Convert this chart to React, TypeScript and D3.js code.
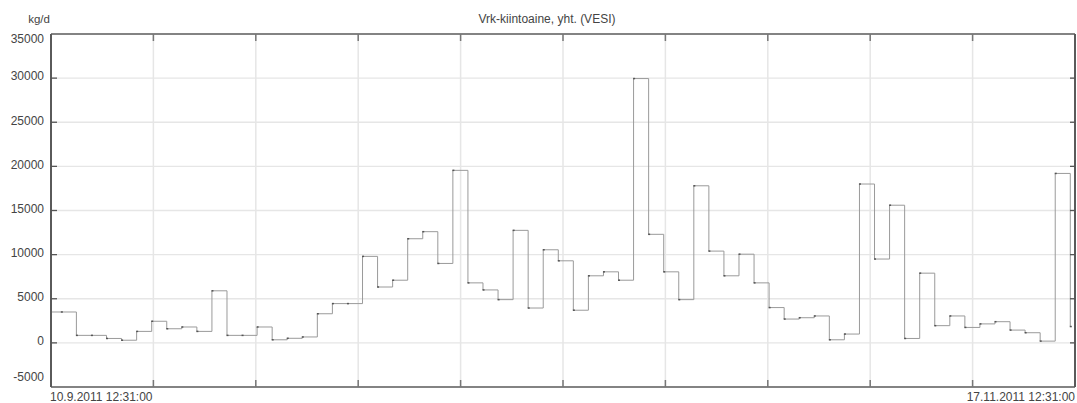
import React from "react";
import * as d3 from "d3";

// Daily solids load (kg/d), one value per daily reading
const dailyLoad: number[] = [
  3500, 3500, 850, 850, 500, 300, 1300, 2450, 1600, 1800, 1300, 5900, 850, 850,
  1800, 350, 520, 670, 3300, 4450, 4450, 9800, 6330, 7100, 11800, 12600, 9000,
  19550, 6800, 6000, 4900, 12750, 3950, 10550, 9300, 3700, 7600, 8050, 7100,
  29950, 12300, 8050, 4900, 17800, 10400, 7600, 10050, 6800, 4000, 2700, 2850,
  3050, 350, 1000, 18000, 9500, 15600, 500, 7900, 1950, 3050, 1750, 2150, 2400,
  1450, 1150, 200, 19200, 1850,
];

// Timestamp of the first reading; readings follow one per day
const firstReading = new Date(Date.UTC(2011, 8, 10, 5, 0));
const rangeStart = new Date(Date.UTC(2011, 8, 10, 12, 31));
const rangeEnd = new Date(Date.UTC(2011, 10, 17, 12, 31));

const yTicks: number[] = [-5000, 0, 5000, 10000, 15000, 20000, 25000, 30000, 35000];
const xDivisions = 10;

const chartTitle = "Vrk-kiintoaine, yht. (VESI)";
const unitLabel = "kg/d";

const W = 1077;
const H = 403;
const margin = { left: 51, right: 2, top: 34, bottom: 16 };

export default function App() {
  const x0 = margin.left;
  const x1 = W - margin.right;
  const y0 = margin.top;
  const y1 = H - margin.bottom;

  const x = d3.scaleUtc().domain([rangeStart, rangeEnd]).range([x0, x1]);
  const y = d3.scaleLinear().domain([-5000, 35000]).range([y1, y0]);

  const points = dailyLoad.map((v, i) => ({
    t: d3.utcDay.offset(firstReading, i),
    v,
  }));

  const line = d3
    .line<{ t: Date; v: number }>()
    .x((d) => x(d.t))
    .y((d) => y(d.v))
    .curve(d3.curveStepAfter);

  const span = rangeEnd.getTime() - rangeStart.getTime();
  const xTicks = d3
    .range(xDivisions + 1)
    .map((i) => new Date(rangeStart.getTime() + (span * i) / xDivisions));

  const fmt = d3.utcFormat("%-d.%-m.%Y %H:%M:%S");
  const font = "'Liberation Sans', Arial, sans-serif";
  const textColor = "#444";
  const axisColor = "#5a5a5a";
  const gridColor = "#e6e6e6";

  const labelBaseline = (v: number) => {
    const gy = y(v);
    if (v === yTicks[yTicks.length - 1]) return y0 + 9;
    if (v === yTicks[0]) return y1 - 6;
    return gy + 2.3;
  };

  return (
    <svg
      width={W}
      height={H}
      style={{ position: "absolute", left: 0, top: 0, background: "#fff" }}
      fontFamily={font}
    >
      <defs>
        <clipPath id="plot-clip">
          <rect x={x0} y={y0} width={x1 - x0} height={y1 - y0} />
        </clipPath>
      </defs>

      {/* grid */}
      {yTicks.slice(1, -1).map((v) => (
        <line key={"gy" + v} x1={x0} x2={x1} y1={y(v)} y2={y(v)} stroke={gridColor} strokeWidth={1.3} />
      ))}
      {xTicks.slice(1, -1).map((t, i) => (
        <line key={"gx" + i} x1={x(t)} x2={x(t)} y1={y0} y2={y1} stroke={gridColor} strokeWidth={1.5} />
      ))}

      {/* series */}
      <g clipPath="url(#plot-clip)">
        <path d={line(points) || ""} fill="none" stroke="#9a9a9a" strokeWidth={1} />
        {points.map((p, i) => (
          <rect key={"pt" + i} x={x(p.t) - 0.5} y={y(p.v) - 0.75} width={2} height={1.5} fill="#555" />
        ))}
      </g>

      {/* frame */}
      <line x1={x0} x2={x1} y1={y0} y2={y0} stroke={axisColor} strokeWidth={1.5} />
      <line x1={x0} x2={x1} y1={y1} y2={y1} stroke={axisColor} strokeWidth={1.5} />
      <line x1={x0} x2={x0} y1={y0} y2={y1} stroke={axisColor} strokeWidth={2} />
      <line x1={x1} x2={x1} y1={y0} y2={y1} stroke={axisColor} strokeWidth={2} />

      {/* tick marks */}
      {xTicks.slice(1, -1).map((t, i) => (
        <g key={"xt" + i}>
          <line x1={x(t)} x2={x(t)} y1={y0} y2={y0 + 7} stroke="#777" strokeWidth={1.5} />
          <line x1={x(t)} x2={x(t)} y1={y1} y2={y1 - 7} stroke="#777" strokeWidth={1.5} />
        </g>
      ))}
      {yTicks.slice(1, -1).map((v) => (
        <g key={"yt" + v}>
          <line x1={x0} x2={x0 + 6} y1={y(v)} y2={y(v)} stroke="#555" strokeWidth={1.3} />
          <line x1={x1} x2={x1 - 5} y1={y(v)} y2={y(v)} stroke="#555" strokeWidth={1.3} />
        </g>
      ))}

      {/* y labels */}
      {yTicks.map((v) => (
        <text key={"yl" + v} x={44} y={labelBaseline(v)} textAnchor="end" fontSize={12} fill={textColor}>
          {v}
        </text>
      ))}

      {/* x labels */}
      <text x={x0 - 1} y={401} fontSize={12} fill={textColor} textAnchor="start">
        {fmt(rangeStart)}
      </text>
      <text x={x1} y={401} fontSize={12} fill={textColor} textAnchor="end">
        {fmt(rangeEnd)}
      </text>

      {/* unit and title */}
      <text x={39} y={23} fontSize={11.5} fill={textColor} textAnchor="middle">
        {unitLabel}
      </text>
      <text x={547} y={23} fontSize={12} fill={textColor} textAnchor="middle">
        {chartTitle}
      </text>
    </svg>
  );
}
